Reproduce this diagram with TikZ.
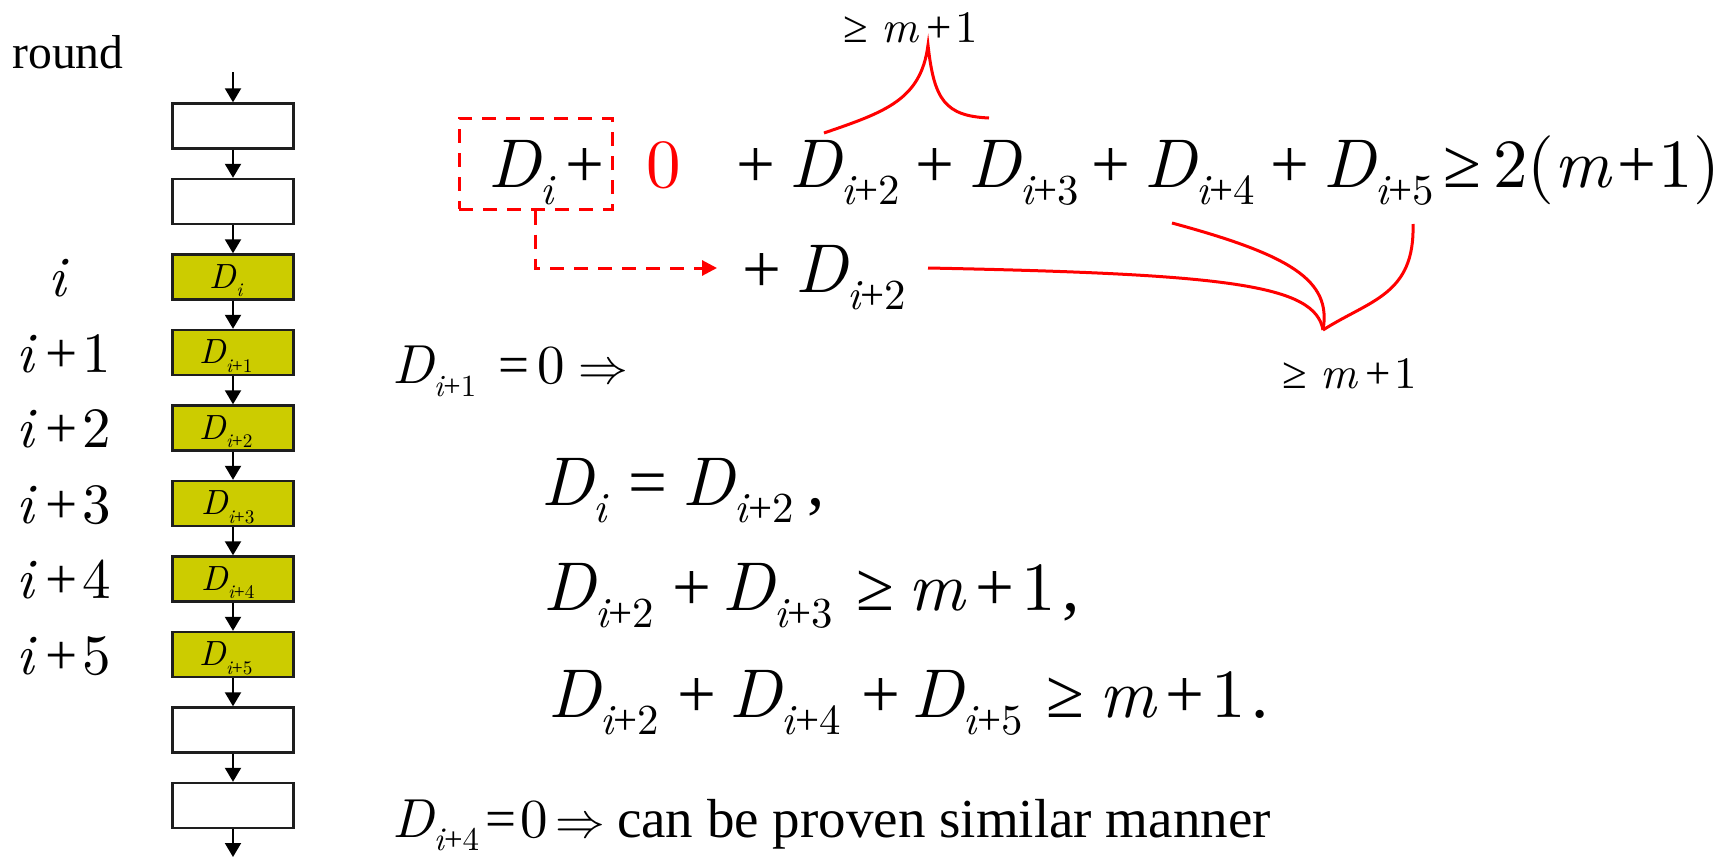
\documentclass[tikz,border=0pt]{standalone}
\usepackage{fontspec}
\setmainfont{Liberation Serif}
\newfontfamily\lmit{lmroman10-italic.otf}
\newfontfamily\lmr{lmroman10-regular.otf}
\usepackage{graphicx}
\usetikzlibrary{arrows.meta}
\definecolor{boxyellow}{RGB}{204,204,0}
\definecolor{boxedge}{RGB}{30,30,30}
\newcommand\fsz[1]{\fontsize{#1pt}{#1pt}\selectfont}
\newcommand\vi[1]{{\lmit #1}}
\newcommand\dg[1]{{\lmr #1}}
\newcommand\DD[2][0.62]{\vi{D}\raisebox{-0.25em}{\scalebox{#1}{#2}}}
\newcommand\ip[1]{\vi{i}+\dg{#1}}
\begin{document}
\begin{tikzpicture}[x=0.5pt,y=-0.5pt,
  wbox/.style={draw=boxedge,line width=1.2pt,fill=white,minimum width=60.5pt,minimum height=22.5pt,inner sep=0pt},
  ybox/.style={wbox,fill=boxyellow},
  arr/.style={-{Triangle[length=7pt,width=8pt]},line width=1pt},
  txt/.style={inner sep=0pt,anchor=base west},
  eq/.style={txt,font=\fsz{34.5}},
  eqs/.style={txt,font=\fsz{27.5}},
  lbl/.style={txt,font=\fsz{22.5}},
  rowlab/.style={txt,font=\fsz{28.5}},
  boxlab/.style={inner sep=0pt,anchor=base,font=\fsz{17.5}},
  redline/.style={draw=red,line width=1.5pt},
  reddash/.style={draw=red,line width=1.5pt,dash pattern=on 7pt off 5pt}]
\useasboundingbox (0,0) rectangle (1730,857);

% ---- column of rounds ----
\node[txt,font=\fsz{23.8}] (round) at (12,68) {round};
\node[wbox] (b1) at (233,126) {};
\node[wbox] (b2) at (233,201.5) {};
\node[ybox] (b3) at (233,277) {};
\node[ybox] (b4) at (233,352.5) {};
\node[ybox] (b5) at (233,428) {};
\node[ybox] (b6) at (233,503.5) {};
\node[ybox] (b7) at (233,579) {};
\node[ybox] (b8) at (233,654.5) {};
\node[wbox] (b9) at (233,730) {};
\node[wbox] (b10) at (233,805.5) {};
\coordinate (topin) at (233,72);
\coordinate (botout) at (233,857);
\draw[arr] (topin) -- (b1);
\draw[arr] (b1) -- (b2);
\draw[arr] (b2) -- (b3);
\draw[arr] (b3) -- (b4);
\draw[arr] (b4) -- (b5);
\draw[arr] (b5) -- (b6);
\draw[arr] (b6) -- (b7);
\draw[arr] (b7) -- (b8);
\draw[arr] (b8) -- (b9);
\draw[arr] (b9) -- (b10);
\draw[arr] (b10) -- (botout);

\node[boxlab] (l3) at (226,288) {\DD[0.55]{\vi{i}}};
\node[boxlab] (l4) at (226,363.5) {\DD[0.55]{\ip{1}}};
\node[boxlab] (l5) at (226,439) {\DD[0.55]{\ip{2}}};
\node[boxlab] (l6) at (228,514.5) {\DD[0.55]{\ip{3}}};
\node[boxlab] (l7) at (228,590) {\DD[0.55]{\ip{4}}};
\node[boxlab] (l8) at (226,665.5) {\DD[0.55]{\ip{5}}};

\node[rowlab,anchor=base] (n3) at (57,296) {\vi{i}};
\node[rowlab] (n4) at (16,372) {\vi{i}\hspace{0.2em}+\hspace{0.08em}\dg{1}};
\node[rowlab] (n5) at (16,447.5) {\vi{i}\hspace{0.2em}+\hspace{0.08em}\dg{2}};
\node[rowlab] (n6) at (16,523) {\vi{i}\hspace{0.2em}+\hspace{0.08em}\dg{3}};
\node[rowlab] (n7) at (16,598.5) {\vi{i}\hspace{0.2em}+\hspace{0.08em}\dg{4}};
\node[rowlab] (n8) at (16,674) {\vi{i}\hspace{0.2em}+\hspace{0.08em}\dg{5}};

% ---- top line ----
\node[eq] (t1) at (488,187) {\DD{\vi{i}}};
\node[eq] (tplus) at (565,187) {+};
\node[eq,text=red] (t0) at (646,187) {\dg{0}};
\node[eq] (t2) at (736,187) {+\hspace{0.2em}\DD{\ip{2}}};
\node[eq] (t3) at (915,187) {+\hspace{0.2em}\DD{\ip{3}}};
\node[eq] (t4) at (1091,187) {+\hspace{0.2em}\DD{\ip{4}}};
\node[eq] (t5) at (1270,187) {+\hspace{0.2em}\DD{\ip{5}}};
\node[eq] (rhs) at (1443,187) {≥\hspace{0.17em}\dg{2(}\vi{m}\hspace{0.09em}+\hspace{0.04em}\dg{1)}};

\node[reddash,minimum width=76.5pt,minimum height=45.5pt,inner sep=0pt] (dbox) at (535.5,163.5) {};
\node[eq] (r2) at (742,292) {+\hspace{0.2em}\DD{\ip{2}}};
\coordinate (arrEnd) at (717,268);
\draw[reddash,-{Triangle[length=7.5pt,width=7.5pt]}] (dbox.south) |- (arrEnd);

% top brace
\node[lbl] (toplab) at (843,42) {≥\hspace{0.3em}\vi{m}\hspace{0.17em}+\hspace{0.1em}\dg{1}};
\coordinate (tb2) at (824,133);
\coordinate (tpk) at (928,45);
\coordinate (tb3) at (989,118);
\draw[redline] (tb2) .. controls (885,112) and (921,100) .. (tpk) .. controls (934,100) and (945,116) .. (tb3);

% bottom brace
\coordinate (bs2) at (928,268);
\coordinate (bs4) at (1172,223);
\coordinate (bs5) at (1413,224);
\coordinate (btip) at (1323,330);
\draw[redline] (bs2) .. controls (1230,274) and (1315,285) .. (btip);
\draw[redline] (bs4) .. controls (1290,255) and (1332,280) .. (btip);
\draw[redline] (bs5) .. controls (1415,295) and (1370,300) .. (btip);
\node[lbl] (botlab) at (1282,388) {≥\hspace{0.3em}\vi{m}\hspace{0.17em}+\hspace{0.1em}\dg{1}};

% ---- derivation ----
\node[eqs] (e1) at (392,383) {\DD[0.56]{\ip{1}}\hspace{0.4em}=\hspace{0.15em}\dg{0}\hspace{0.24em}$\Rightarrow$};
\node[eq] (e2) at (541,505) {\DD{\vi{i}}\hspace{0.31em}=\hspace{0.23em}\DD{\ip{2}}\hspace{0.2em},};
\node[eq] (e3) at (543,610) {\DD{\ip{2}}\hspace{0.26em}+\hspace{0.16em}\DD{\ip{3}}\hspace{0.35em}≥\hspace{0.2em}\vi{m}\hspace{0.15em}+\hspace{0.1em}\dg{1}\hspace{0.1em},};
\node[eq] (e4) at (548,717) {\DD{\ip{2}}\hspace{0.26em}+\hspace{0.2em}\DD{\ip{4}}\hspace{0.3em}+\hspace{0.17em}\DD{\ip{5}}\hspace{0.35em}≥\hspace{0.22em}\vi{m}\hspace{0.14em}+\hspace{0.1em}\dg{1}\hspace{0.07em}.};
\node[eqs] (e5) at (392,837) {\DD[0.6]{\ip{4}}\hspace{0.12em}=\hspace{0.06em}\dg{0}\hspace{0.14em}$\Rightarrow$\hspace{0.22em}can be proven similar manner};
\end{tikzpicture}
\end{document}
